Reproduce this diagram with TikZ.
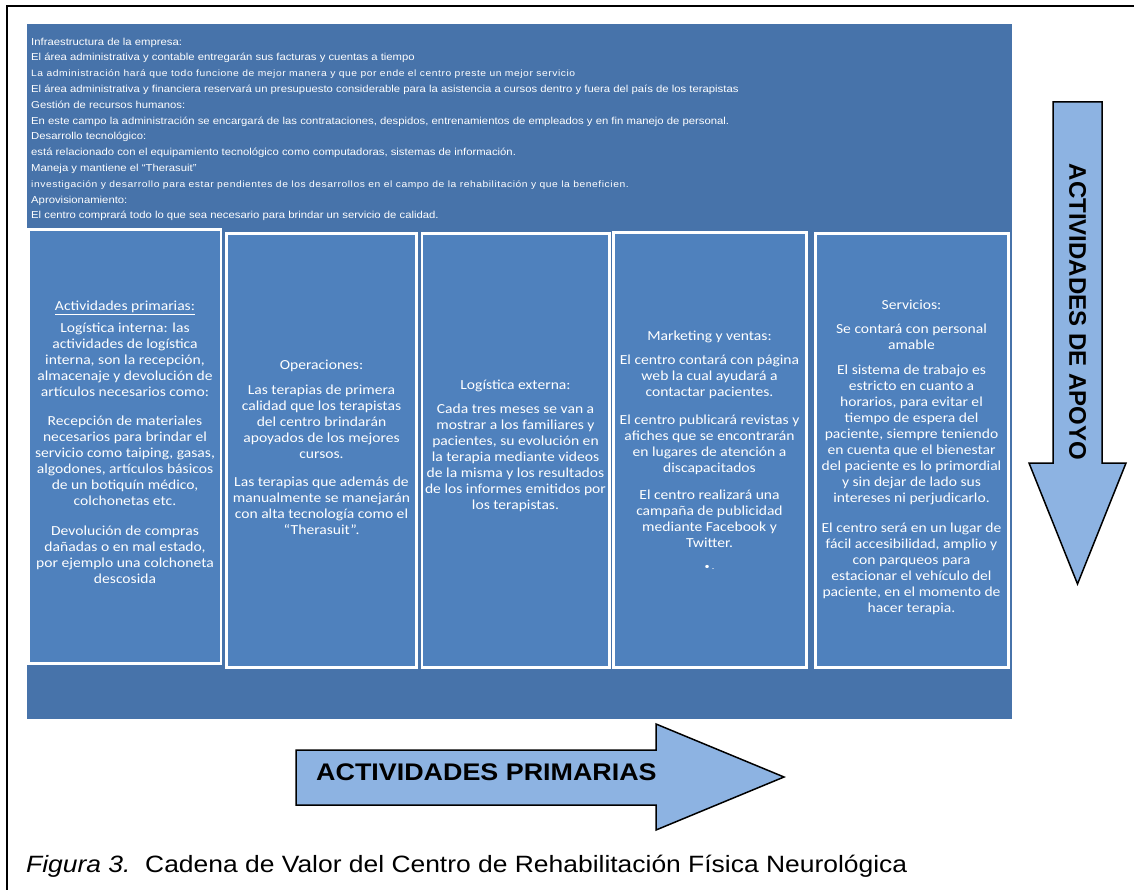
\documentclass[tikz,border=0pt]{standalone}
\usepackage{fontspec}
\setmainfont{Liberation Sans}[FakeStretch=1.12]
\newfontfamily\plainsans{Liberation Sans}
\newfontfamily\calib{Carlito}[FakeStretch=1.13]
\definecolor{band}{RGB}{71,115,170}
\definecolor{colfill}{RGB}{79,129,189}
\definecolor{arrowfill}{RGB}{141,179,226}
\begin{document}
\begin{tikzpicture}[x=1pt,y=-1pt,
  colbox/.style={draw=white, line width=2.5pt, fill=colfill, anchor=north west, inner sep=0pt, outer sep=0pt},
  coltext/.style={text=white, align=center, font=\calib\fontsize{13.8}{16}\selectfont, inner sep=0pt, anchor=north},
  toptext/.style={text=white, align=left, font=\fontsize{10.1}{15.8}\selectfont, inner sep=0pt, anchor=north west},
  bigarrow/.style={draw=black, line width=1.5pt, fill=arrowfill, line join=miter},
  arrowlabel/.style={font=\bfseries\fontsize{24}{24}\selectfont, inner sep=0pt, text=black},
]
\useasboundingbox (0,0) rectangle (1134,890);
\fill[white] (0,0) rectangle (1134,890);
% frame
\draw[line width=2pt] (7,900) -- (7,6) -- (1140,6);
% board
\node (board) [fill=band, anchor=north west, inner sep=0pt, outer sep=0pt, minimum width=985pt, minimum height=695pt] at (27,24) {};
% support activities text
\node (support) [toptext] at (31,37.5) {Infraestructura de la empresa:\\
El área administrativa y contable entregarán sus facturas y cuentas a tiempo\\
{\fontsize{9.2}{15.8}\selectfont\addfontfeature{LetterSpace=6}La administración hará que todo funcione de mejor manera y que por ende el centro preste un mejor servicio}\\
El área administrativa y financiera reservará un presupuesto considerable para la asistencia a cursos dentro y fuera del país de los terapistas\\
Gestión de recursos humanos:\\
En este campo la administración se encargará de las contrataciones, despidos, entrenamientos de empleados y en fin manejo de personal.\\
Desarrollo tecnológico:\\
está relacionado con el equipamiento tecnológico como computadoras, sistemas de información.\\
Maneja y mantiene el “Therasuit”\\
{\fontsize{9.2}{15.8}\selectfont\addfontfeature{LetterSpace=6}investigación y desarrollo para estar pendientes de los desarrollos en el campo de la rehabilitación y que la beneficien.}\\
Aprovisionamiento:\\
El centro comprará todo lo que sea necesario para brindar un servicio de calidad.};
% columns
\node (c1) [colbox, minimum width=192.5pt, minimum height=434pt] at (28.5,229.5) {};
\node (c2) [colbox, minimum width=190pt, minimum height=434pt] at (226.5,233.5) {};
\node (c3) [colbox, minimum width=187.5pt, minimum height=434pt] at (422,233.5) {};
\node (c4) [colbox, minimum width=193pt, minimum height=435pt] at (613.5,232.5) {};
\node (c5) [colbox, minimum width=193pt, minimum height=434pt] at (815.5,233.5) {};
% column texts
\node (t1) [coltext] at (125,301) {\underline{Actividades primarias:}\\[6pt]
Logística interna: las\\ actividades de logística\\ interna, son la recepción,\\ almacenaje y devolución de\\ artículos necesarios como:\\[13pt]
Recepción de materiales\\ necesarios para brindar el\\ servicio como taiping, gasas,\\ algodones, artículos básicos\\ de un botiquín médico,\\ colchonetas etc.\\[14pt]
Devolución de compras\\ dañadas o en mal estado,\\ por ejemplo una colchoneta\\ descosida};
\node (t2) [coltext] at (321.5,360) {Operaciones:\\[9pt]
Las terapias de primera\\ calidad que los terapistas\\ del centro brindarán\\ apoyados de los mejores\\ cursos.\\[12pt]
Las terapias que además de\\ manualmente se manejarán\\ con alta tecnología como el\\ “Therasuit”.};
\node (t3) [coltext] at (515.5,380) {Logística externa:\\[8pt]
Cada tres meses se van a\\ mostrar a los familiares y\\ pacientes, su evolución en\\ la terapia mediante videos\\ de la misma y los resultados\\ de los informes emitidos por\\ los terapistas.};
\node (t4) [coltext] at (709.5,331) {Marketing y ventas:\\[8pt]
El centro contará con página\\ web la cual ayudará a\\ contactar pacientes.\\[12pt]
El centro publicará revistas y\\ afiches que se encontrarán\\ en lugares de atención a\\ discapacitados\\[11pt]
El centro realizará una\\ campaña de publicidad\\ mediante Facebook y\\ Twitter.\\[6pt]
{\fontsize{9}{10}\selectfont • .}};
\node (t5) [coltext] at (911.5,300) {Servicios:\\[8pt]
Se contará con personal\\ amable\\[9pt]
El sistema de trabajo es\\ estricto en cuanto a\\ horarios, para evitar el\\ tiempo de espera del\\ paciente, siempre teniendo\\ en cuenta que el bienestar\\ del paciente es lo primordial\\ y sin dejar de lado sus\\ intereses ni perjudicarlo.\\[14pt]
El centro será en un lugar de\\ fácil accesibilidad, amplio y\\ con parqueos para\\ estacionar el vehículo del\\ paciente, en el momento de\\ hacer terapia.};
% vertical arrow
\draw[bigarrow] (1053,102) -- (1102,102) -- (1102,463) -- (1126,463) -- (1077.5,584) -- (1029,463) -- (1053,463) -- cycle;
\node (apoyo) [arrowlabel, font=\plainsans\bfseries\fontsize{24}{24}\selectfont, rotate=-90] at (1077.5,312) {ACTIVIDADES DE APOYO};
% horizontal arrow
\draw[bigarrow] (296,750) -- (656,750) -- (656,724) -- (784,777) -- (656,830) -- (656,805) -- (296,805) -- cycle;
\node (prim) [arrowlabel, anchor=west] at (316,772) {ACTIVIDADES PRIMARIAS};
% caption
\node (cap) [anchor=base west, inner sep=0pt, font=\fontsize{23.6}{24}\selectfont] at (26,872) {\textit{Figura 3.}\ \ Cadena de Valor del Centro de Rehabilitación Física Neurológica};
\end{tikzpicture}
\end{document}
